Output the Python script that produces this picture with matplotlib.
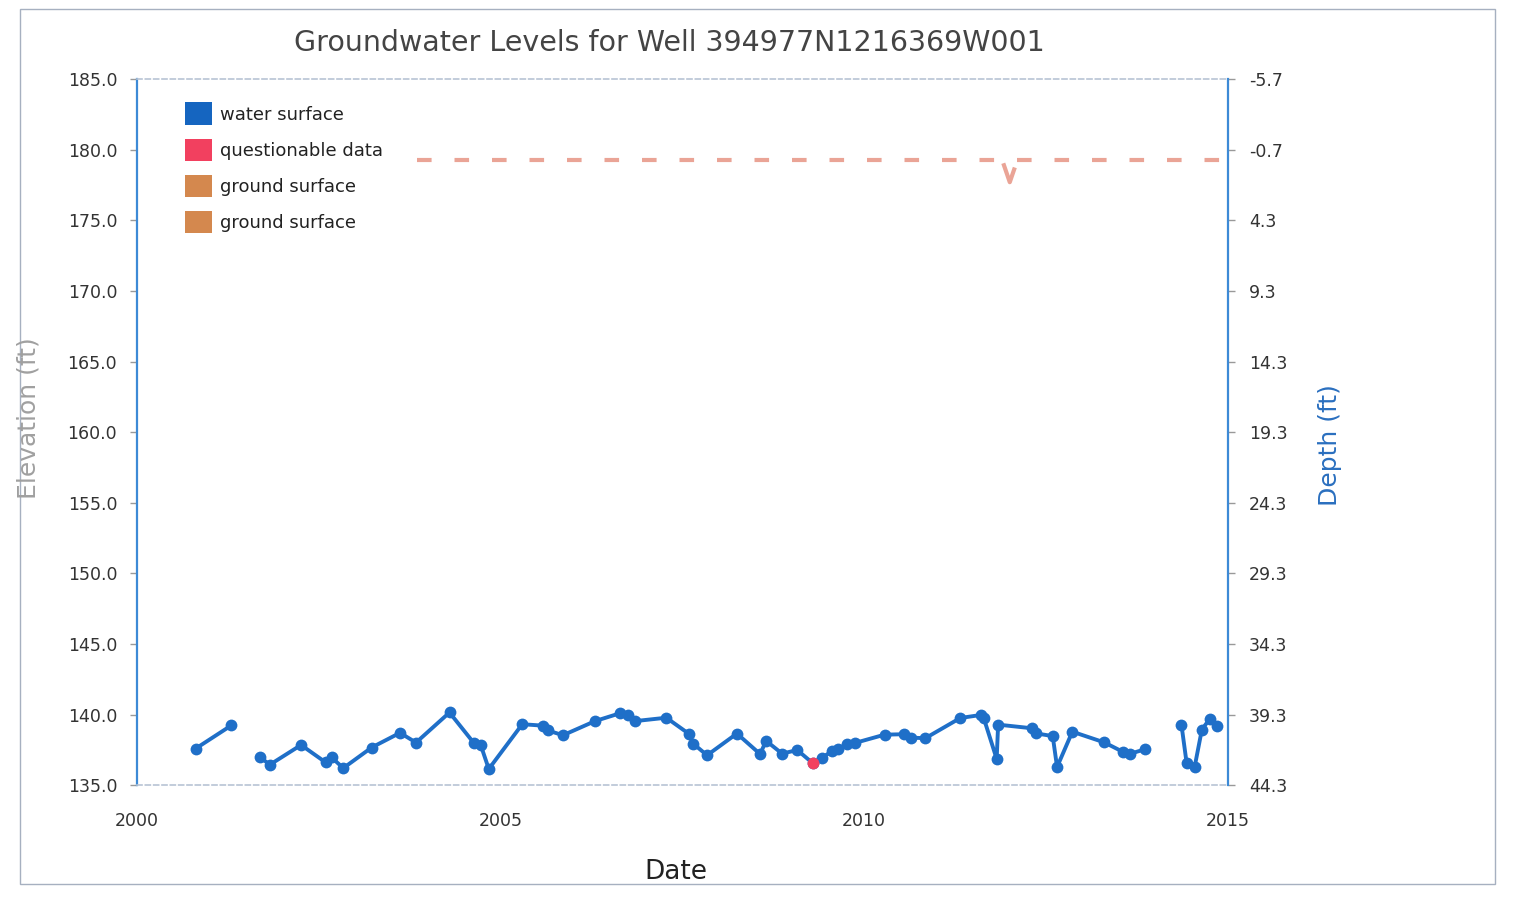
import numpy as np
import matplotlib
matplotlib.use("Agg")
import matplotlib.pyplot as plt
from matplotlib.patches import Patch, Rectangle

# ---------------- data ----------------
title = "Groundwater Levels for Well 394977N1216369W001"
ground_elev = 179.3  # elevation of ground surface (depth 0)

# water surface measurements (decimal year, elevation ft); NaN = gap in record
ws_dates = [2000.81, 2001.30, np.nan,
            2001.69, 2001.83, 2002.26, 2002.60, 2002.68, 2002.84, 2003.23, 2003.62,
            2003.84, 2004.30, 2004.63, 2004.73, 2004.84, 2005.30, 2005.58, 2005.65,
            2005.86, 2006.30, 2006.64, 2006.75, 2006.85, 2007.28, 2007.59, 2007.65,
            2007.84, 2008.25, 2008.57, 2008.65, 2008.87, 2009.08, 2009.29, 2009.42,
            2009.56, 2009.64, 2009.76, 2009.87, 2010.28, 2010.54, 2010.64, 2010.84,
            2011.32, 2011.61, 2011.64, 2011.82, 2011.84, 2012.31, 2012.36, 2012.59,
            2012.65, 2012.86, 2013.30, 2013.56, 2013.65, 2013.86, np.nan,
            2014.36, 2014.43, 2014.54, 2014.64, 2014.75, 2014.85]
ws_elev = [137.6, 139.24, np.nan,
           137.03, 136.46, 137.86, 136.62, 136.98, 136.22, 137.68, 138.72,
           138.03, 140.16, 138.03, 137.84, 136.16, 139.33, 139.23, 138.89,
           138.55, 139.55, 140.10, 139.97, 139.55, 139.79, 138.65, 137.95,
           137.13, 138.67, 137.21, 138.16, 137.25, 137.50, 136.58, 136.95,
           137.44, 137.56, 137.94, 138.00, 138.59, 138.62, 138.38, 138.34,
           139.77, 139.99, 139.80, 136.87, 139.30, 139.04, 138.68, 138.49,
           136.30, 138.80, 138.04, 137.36, 137.23, 137.56, np.nan,
           139.27, 136.60, 136.29, 138.95, 139.72, 139.20]

# questionable measurement
q_dates = [2009.29]
q_elev = [136.58]

# ground surface reference line
gs_dates = [2003.85, 2011.88, 2012.08, 2015.0]
gs_elev = [179.3, 179.3, 179.3, 179.3]
gs_dip_dates = [2011.92, 2012.0, 2012.06]
gs_dip_elev = [178.9, 177.7, 178.6]

left_ticks = [135.0, 140.0, 145.0, 150.0, 155.0, 160.0, 165.0, 170.0, 175.0, 180.0, 185.0]
depth_ticks = [-5.7, -0.7, 4.3, 9.3, 14.3, 19.3, 24.3, 29.3, 34.3, 39.3, 44.3]
x_ticks = [2000, 2005, 2010, 2015]
legend_labels = ["water surface", "questionable data", "ground surface", "ground surface"]

# ---------------- style ----------------
c_water = "#1f6fc8"
c_water_leg = "#1565c0"
c_q = "#f2405f"
c_ground = "#d4884e"
c_ground_line = "#eaa496"
c_spine = "#3d8ad6"
c_text = "#333333"

fig = plt.figure(figsize=(15.18, 9.09), dpi=100)
ax = fig.add_axes([0.090, 0.136, 0.719, 0.777])

ax.plot(gs_dates, gs_elev, color=c_ground_line, lw=3.0, dashes=(3.5, 5.5),
        solid_capstyle="butt", zorder=2)
ax.plot(gs_dip_dates, gs_dip_elev, color=c_ground_line, lw=3.0, zorder=2)

ax.plot(ws_dates, ws_elev, color=c_water, lw=2.8, marker="o", ms=8.5,
        markeredgewidth=0, zorder=3)
ax.plot(q_dates, q_elev, color=c_q, lw=0, marker="o", ms=8.5,
        markeredgewidth=0, zorder=4)

ax.set_xlim(2000, 2015)
ax.set_ylim(135, 185)
ax.set_xticks(x_ticks)
ax.set_xticklabels([str(t) for t in x_ticks])
ax.set_yticks(left_ticks)
ax.set_yticklabels([f"{t:.1f}" for t in left_ticks])
ax.tick_params(axis="x", length=0, pad=19, labelsize=12.5, colors=c_text)
ax.tick_params(axis="y", length=5, width=1, pad=9, labelsize=12.5,
               colors="#999999", labelcolor=c_text)

ax.spines["left"].set_color(c_spine)
ax.spines["left"].set_linewidth(1.6)
for s in ["top", "bottom"]:
    ax.spines[s].set_color("#b8c4d4")
    ax.spines[s].set_linewidth(1.2)
    ax.spines[s].set_linestyle((0, (3, 2)))
ax.spines["right"].set_visible(False)

ax2 = ax.twinx()
ax2.set_ylim(ground_elev - 135, ground_elev - 185)
ax2.set_yticks(depth_ticks)
ax2.set_yticklabels([f"{t:.1f}" for t in depth_ticks])
ax2.tick_params(axis="y", length=5, width=1, pad=10, labelsize=12.5,
                colors="#999999", labelcolor=c_text)
for s in ["left", "top", "bottom"]:
    ax2.spines[s].set_visible(False)
ax2.spines["right"].set_color(c_spine)
ax2.spines["right"].set_linewidth(1.6)

handles = [Patch(facecolor=c_water_leg, edgecolor="none"),
           Patch(facecolor=c_q, edgecolor="none"),
           Patch(facecolor=c_ground, edgecolor="none"),
           Patch(facecolor=c_ground, edgecolor="none")]
leg = ax.legend(handles, legend_labels, loc="upper left",
                bbox_to_anchor=(0.044, 0.967), frameon=False, fontsize=13,
                handlelength=1.5, handleheight=1.55, handletextpad=0.45,
                labelspacing=0.75, borderpad=0, borderaxespad=0)
for t in leg.get_texts():
    t.set_color("#222222")

fig.text(0.441, 0.953, title, ha="center", va="center", fontsize=20.5, color="#444444")
fig.text(0.445, 0.041, "Date", ha="center", va="center", fontsize=19, color="#222222")
fig.text(0.019, 0.54, "Elevation (ft)", ha="center", va="center", rotation=90,
         fontsize=18, color="#a0a0a0")
fig.text(0.876, 0.51, "Depth (ft)", ha="center", va="center", rotation=90,
         fontsize=18, color="#2a6fbf")

# scanned page frame
fig.patches.append(Rectangle((0.013, 0.028), 0.972, 0.962, transform=fig.transFigure,
                             fill=False, edgecolor="#a6b0c0", lw=1.0))

fig.savefig("out.png", dpi=100)
